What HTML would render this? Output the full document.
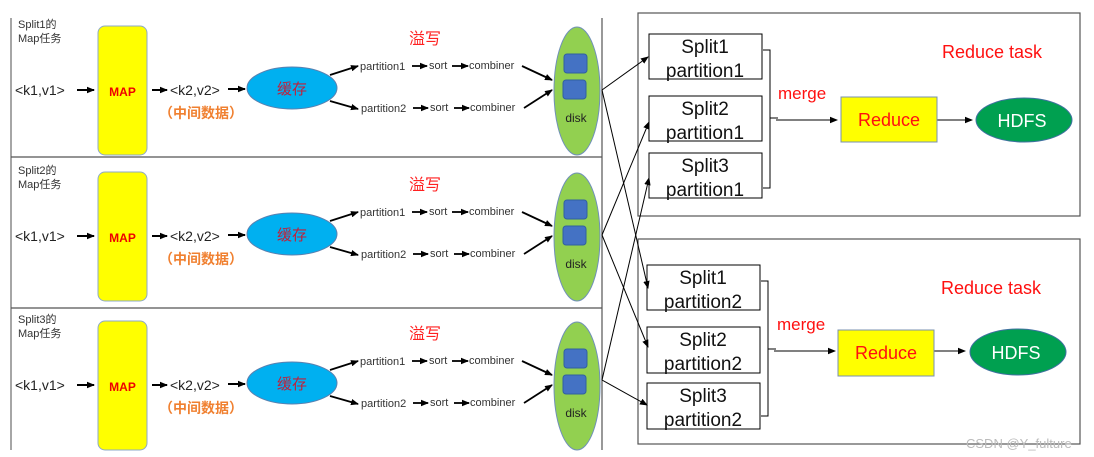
<!DOCTYPE html>
<html><head><meta charset="utf-8"><style>body{margin:0;background:#fff}svg{display:block}</style></head><body>
<svg width="1094" height="457" viewBox="0 0 1094 457" xmlns="http://www.w3.org/2000/svg" font-family="Liberation Sans, Noto Sans CJK SC, sans-serif">
<defs>
<marker id="a" markerWidth="8" markerHeight="8" refX="7" refY="4" orient="auto" markerUnits="userSpaceOnUse"><path d="M0,0.8 L8,4 L0,7.2 z" fill="#000"/></marker>
<g id="row">
<text x="18" y="28" font-size="11" fill="#333">Split1的</text>
<rect x="98" y="26" width="49" height="129" rx="7" fill="#ffff00" stroke="#8ea9c8" stroke-width="1"/>
<text x="122.5" y="96" font-size="12" font-weight="bold" fill="#e00" text-anchor="middle">MAP</text>
<text x="15" y="95" font-size="14" fill="#222">&lt;k1,v1&gt;</text>
<line x1="77" y1="90" x2="94" y2="90" stroke="#000" stroke-width="2" marker-end="url(#a)"/>
<line x1="152" y1="90" x2="167" y2="90" stroke="#000" stroke-width="2" marker-end="url(#a)"/>
<text x="170" y="95" font-size="14" fill="#222">&lt;k2,v2&gt;</text>
<line x1="228" y1="89" x2="245" y2="89" stroke="#000" stroke-width="2" marker-end="url(#a)"/>
<text x="159" y="118" font-size="14" font-weight="bold" fill="#f08030">（中间数据）</text>
<ellipse cx="292" cy="88" rx="45" ry="21" fill="#00b0f0" stroke="#5a80b0"/>
<text x="292" y="94" font-size="15" fill="#c0203a" text-anchor="middle">缓存</text>
<text x="409" y="44" font-size="16" fill="#ff2020">溢写</text>
<line x1="330" y1="75" x2="358" y2="66" stroke="#000" stroke-width="1.8" marker-end="url(#a)"/>
<line x1="330" y1="101" x2="358" y2="109" stroke="#000" stroke-width="1.8" marker-end="url(#a)"/>
<text x="360" y="70" font-size="11" fill="#333">partition1</text>
<line x1="412" y1="66" x2="427" y2="66" stroke="#000" stroke-width="1.8" marker-end="url(#a)"/>
<text x="429" y="69" font-size="11" fill="#333">sort</text>
<line x1="452" y1="66" x2="468" y2="66" stroke="#000" stroke-width="1.8" marker-end="url(#a)"/>
<text x="469" y="69" font-size="11" fill="#333">combiner</text>
<text x="361" y="112" font-size="11" fill="#333">partition2</text>
<line x1="413" y1="108" x2="428" y2="108" stroke="#000" stroke-width="1.8" marker-end="url(#a)"/>
<text x="430" y="111" font-size="11" fill="#333">sort</text>
<line x1="454" y1="108" x2="469" y2="108" stroke="#000" stroke-width="1.8" marker-end="url(#a)"/>
<text x="470" y="111" font-size="11" fill="#333">combiner</text>
<line x1="522" y1="66" x2="552" y2="80" stroke="#000" stroke-width="1.8" marker-end="url(#a)"/>
<line x1="524" y1="108" x2="552" y2="90" stroke="#000" stroke-width="1.8" marker-end="url(#a)"/>
<ellipse cx="577" cy="91" rx="23" ry="64" fill="#92d050" stroke="#7090b8"/>
<rect x="564" y="54" width="23" height="19" rx="3" fill="#4472c4" stroke="#3060a0"/>
<rect x="563" y="80" width="23" height="19" rx="3" fill="#4472c4" stroke="#3060a0"/>
<text x="576" y="122" font-size="12" fill="#222" text-anchor="middle">disk</text>
</g>
</defs>
<g>
<use href="#row"/>
<text x="18" y="42" font-size="11" fill="#333">Map任务</text>
</g>
<g transform="translate(0,146)">
<use href="#row"/>
<text x="18" y="42" font-size="11" fill="#333">Map任务</text>
</g>
<g transform="translate(0,295)">
<use href="#row"/>
<text x="18" y="42" font-size="11" fill="#333">Map任务</text>
</g>
<rect x="12" y="160" width="50" height="14" fill="#fff"/>
<text x="18" y="174" font-size="11" fill="#333">Split2的</text>
<rect x="12" y="309" width="50" height="14" fill="#fff"/>
<text x="18" y="323" font-size="11" fill="#333">Split3的</text>
<line x1="11" y1="18" x2="11" y2="450" stroke="#888" stroke-width="1.5"/>
<line x1="602" y1="18" x2="602" y2="450" stroke="#555" stroke-width="1.2"/>
<line x1="11" y1="157" x2="602" y2="157" stroke="#555" stroke-width="1.2"/>
<line x1="11" y1="308" x2="602" y2="308" stroke="#555" stroke-width="1.2"/>
<rect x="638" y="13" width="442" height="203" fill="none" stroke="#555" stroke-width="1.2"/>
<rect x="638" y="239" width="442" height="205" fill="none" stroke="#555" stroke-width="1.2"/>
<g fill="#fff" stroke="#000" stroke-width="1">
<rect x="649" y="34" width="113" height="45"/>
<rect x="649" y="96" width="113" height="45"/>
<rect x="649" y="153" width="113" height="45"/>
<rect x="647" y="265" width="113" height="45"/>
<rect x="647" y="327" width="113" height="46"/>
<rect x="647" y="383" width="113" height="46"/>
</g>
<g font-size="19" fill="#111" text-anchor="middle">
<text x="705" y="53">Split1</text><text x="705" y="77">partition1</text>
<text x="705" y="115">Split2</text><text x="705" y="139">partition1</text>
<text x="705" y="172">Split3</text><text x="705" y="196">partition1</text>
<text x="703" y="284">Split1</text><text x="703" y="308">partition2</text>
<text x="703" y="346">Split2</text><text x="703" y="370">partition2</text>
<text x="703" y="402">Split3</text><text x="703" y="426">partition2</text>
</g>
<g stroke="#000" stroke-width="1" fill="none">
<line x1="602" y1="90" x2="648" y2="57" marker-end="url(#a)"/>
<line x1="602" y1="90" x2="648" y2="288" marker-end="url(#a)"/>
<line x1="602" y1="235" x2="649" y2="122" marker-end="url(#a)"/>
<line x1="602" y1="235" x2="648" y2="347" marker-end="url(#a)"/>
<line x1="602" y1="380" x2="649" y2="178" marker-end="url(#a)"/>
<line x1="602" y1="380" x2="647" y2="405" marker-end="url(#a)"/>
<path d="M763,50 H770 V188 H763 M770,118 H778" />
<path d="M761,281 H768 V416 H761 M768,349 H776" />
<line x1="776" y1="120" x2="837" y2="120" marker-end="url(#a)"/>
<line x1="774" y1="351" x2="835" y2="351" marker-end="url(#a)"/>
<line x1="937" y1="120" x2="972" y2="120" marker-end="url(#a)"/>
<line x1="933" y1="351" x2="965" y2="351" marker-end="url(#a)"/>
</g>
<text x="778" y="99" font-size="17" fill="#ff1010">merge</text>
<text x="777" y="330" font-size="17" fill="#ff1010">merge</text>
<text x="942" y="58" font-size="18" fill="#ff1010">Reduce task</text>
<text x="941" y="294" font-size="18" fill="#ff1010">Reduce task</text>
<rect x="841" y="97" width="96" height="45" fill="#ffff00" stroke="#7890b0"/>
<text x="889" y="126" font-size="18" fill="#ff1010" text-anchor="middle">Reduce</text>
<rect x="838" y="330" width="96" height="46" fill="#ffff00" stroke="#7890b0"/>
<text x="886" y="359" font-size="18" fill="#ff1010" text-anchor="middle">Reduce</text>
<ellipse cx="1024" cy="120" rx="48" ry="22" fill="#00a050" stroke="#4070a0"/>
<text x="1022" y="127" font-size="18" fill="#fff" text-anchor="middle">HDFS</text>
<ellipse cx="1018" cy="352" rx="48" ry="23" fill="#00a050" stroke="#4070a0"/>
<text x="1016" y="359" font-size="18" fill="#fff" text-anchor="middle">HDFS</text>
<text x="966" y="448" font-size="13" fill="#bbb">CSDN @Y_fulture</text>
</svg>
</body></html>
